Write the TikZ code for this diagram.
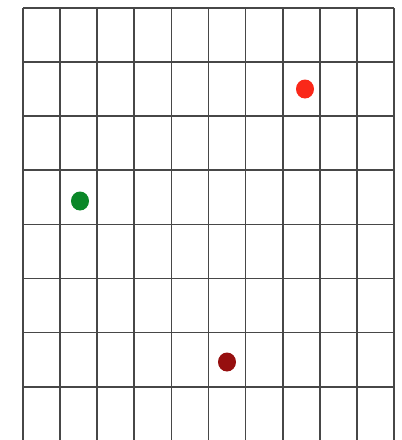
\documentclass[tikz,border=0pt]{standalone}
\usetikzlibrary{shapes.geometric}
\definecolor{dotred}{RGB}{250,40,25}
\definecolor{dotgreen}{RGB}{10,135,40}
\definecolor{dotdark}{RGB}{150,15,15}
\begin{document}
\begin{tikzpicture}[x=1pt,y=-1pt,
  gridline/.style={draw=black!72,line width=1.7pt},
  dot/.style={ellipse,minimum width=18pt,minimum height=19pt,inner sep=0pt}]
\useasboundingbox (0,0) rectangle (402,440);
\fill[white] (0,0) rectangle (402,440);
\foreach \i in {0,...,10}{
  \draw[gridline] ({23+\i*37.1},8) -- ({23+\i*37.1},442);
}
\foreach \j in {0,...,8}{
  \draw[gridline] (23,{8+\j*54.1}) -- (394,{8+\j*54.1});
}
\node[dot,fill=dotred] (r) at (305,89) {};
\node[dot,fill=dotgreen] (g) at (80,201) {};
\node[dot,fill=dotdark] (d) at (227,362) {};
\end{tikzpicture}
\end{document}
